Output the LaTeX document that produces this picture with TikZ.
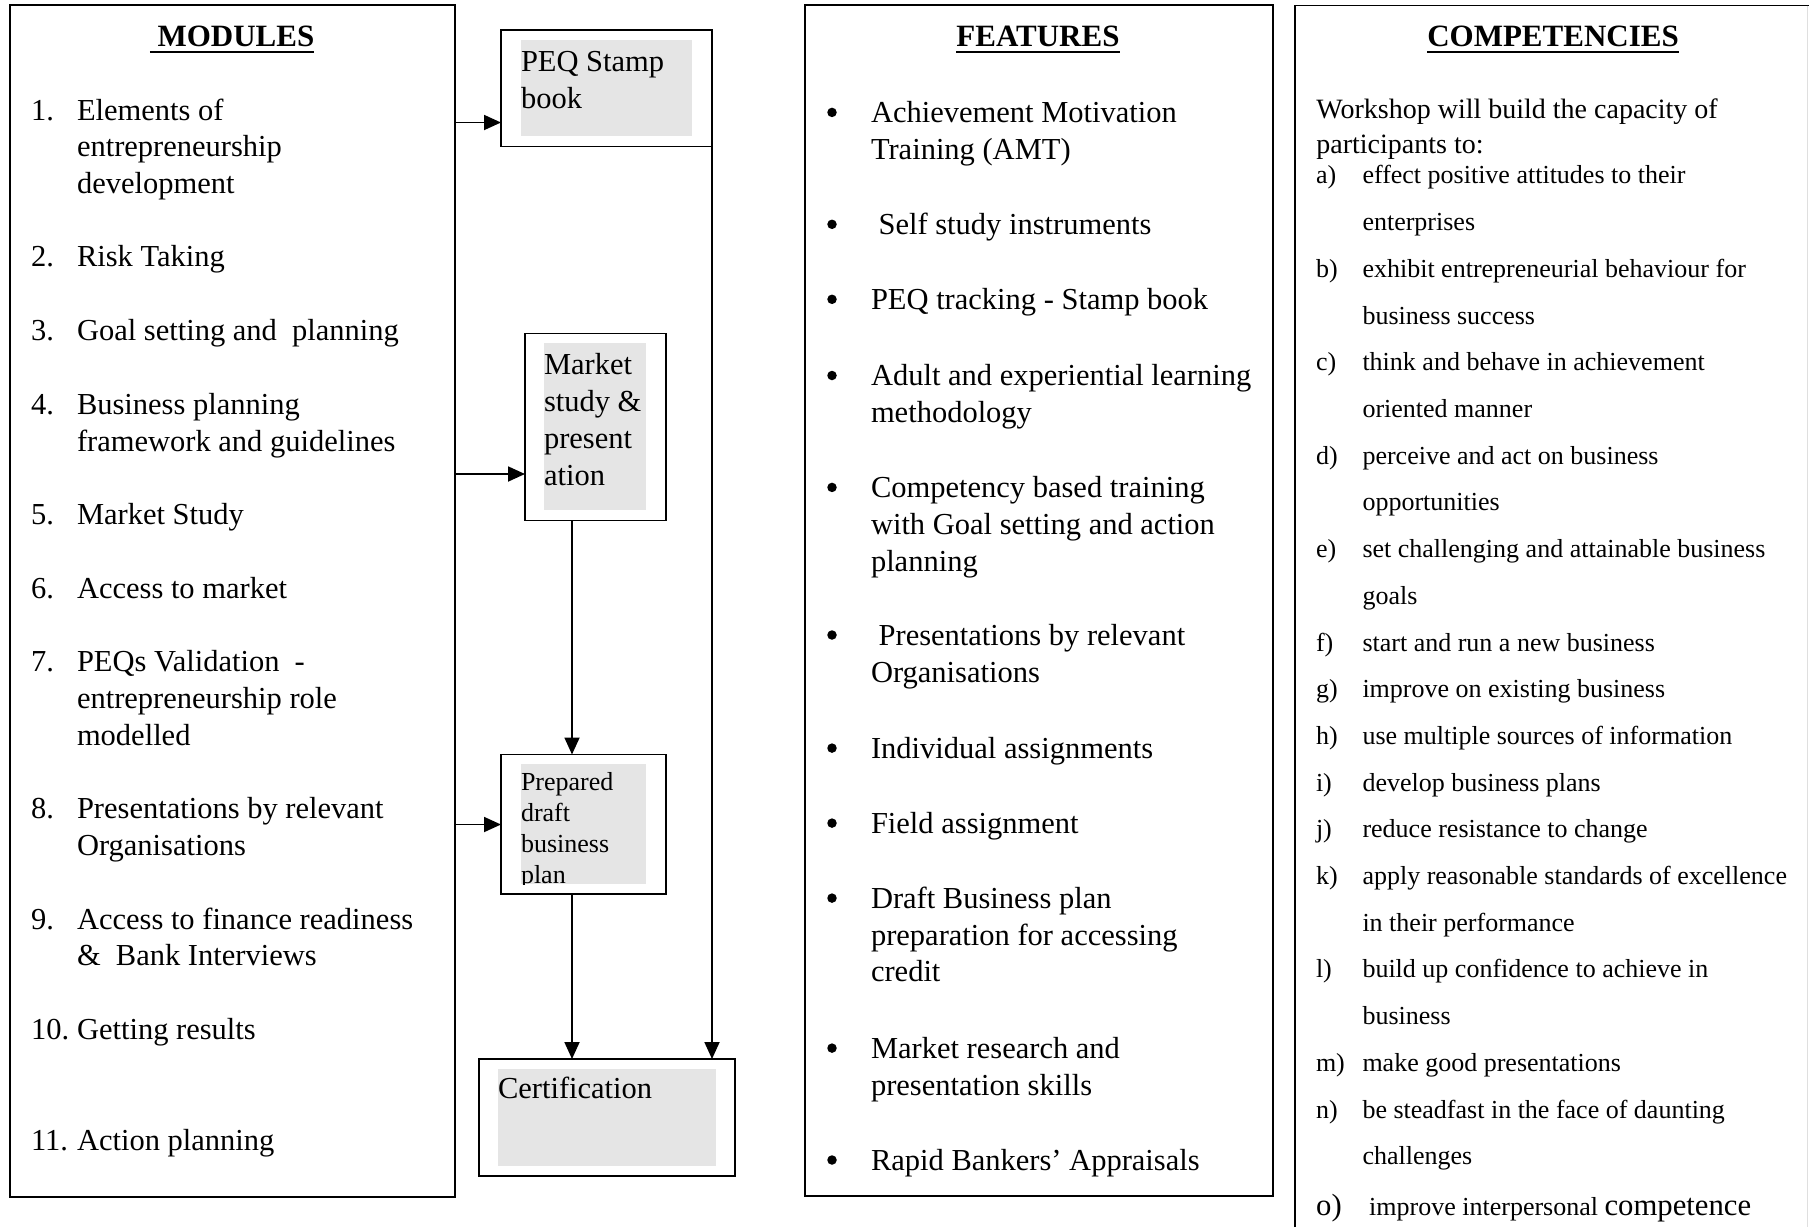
\documentclass[tikz,border=0pt]{standalone}
\usepackage{fontspec}
\setmainfont{Liberation Serif}
\usetikzlibrary{arrows.meta}
\definecolor{boxgray}{HTML}{E5E5E5}
\begin{document}
\begin{tikzpicture}[x=1pt,y=-1pt,
  frame/.style={draw=black, line width=1.8pt, inner sep=0pt, outer sep=0pt, anchor=north west},
  shade/.style={fill=boxgray, inner sep=0pt, outer sep=0pt, anchor=north west},
  body/.style={anchor=north west, inner sep=0pt, outer sep=0pt, align=left, yshift=23.4pt, font=\fontsize{30.5}{36.7}\selectfont},
  feat/.style={anchor=north west, inner sep=0pt, outer sep=0pt, align=left, yshift=23.5pt, font=\fontsize{30.5}{36.8}\selectfont},
  boxtxt/.style={anchor=north west, inner sep=0pt, outer sep=0pt, align=left, yshift=24.2pt, font=\fontsize{30.5}{37}\selectfont},
  smalltxt/.style={anchor=north west, inner sep=0pt, outer sep=0pt, align=left, yshift=19.8pt, font=\fontsize{26}{31}\selectfont},
  intro/.style={anchor=north west, inner sep=0pt, outer sep=0pt, align=left, yshift=22pt, font=\fontsize{28}{34.6}\selectfont},
  comp/.style={anchor=north west, inner sep=0pt, outer sep=0pt, align=left, yshift=31.4pt, font=\fontsize{26}{46.7}\selectfont},
  title/.style={anchor=base, inner sep=0pt, outer sep=0pt, font=\fontsize{31}{37}\selectfont\bfseries},
  uline/.style={line width=2.6pt},
  arr/.style={line width=1.8pt, -{Triangle[length=17pt,width=15pt]}},
  dot/.style={circle, fill=black, inner sep=0pt, minimum size=9.5pt}
]
\useasboundingbox (0,0) rectangle (1809,1227);

% ---------- column frames ----------
\node[frame, minimum width=445pt, minimum height=1192pt] (mod) at (10,5) {};
\node[frame, minimum width=468pt, minimum height=1191pt] (feat) at (805,5) {};
\draw[line width=1.8pt] (1295,1227) -- (1295,5.5) -- (1809,5.5);
\draw[gray!25, line width=1pt] (1807,5.5) -- (1807,1227);

% ---------- titles ----------
\node[title] (tmod) at (232,46.5) {\ MODULES};
\draw[uline] ([yshift=-5.5pt]tmod.base west) -- ([yshift=-5.5pt]tmod.base east);
\node[title] (tfeat) at (1038,46.5) {FEATURES};
\draw[uline] ([yshift=-5.5pt]tfeat.base west) -- ([yshift=-5.5pt]tfeat.base east);
\node[title] (tcomp) at (1553,46.5) {COMPETENCIES};
\draw[uline] ([yshift=-5.5pt]tcomp.base west) -- ([yshift=-5.5pt]tcomp.base east);

% ---------- modules ----------
\node[body] (n1) at (31,118) {\strut 1.};
\node[body] (m1) at (77,118) {\strut Elements of\\entrepreneurship\\development};
\node[body] (n2) at (31,264.6) {\strut 2.};
\node[body] (m2) at (77,264.6) {\strut Risk Taking};
\node[body] (n3) at (31,338.5) {\strut 3.};
\node[body] (m3) at (77,338.5) {\strut Goal setting and\ \ planning};
\node[body] (n4) at (31,412.3) {\strut 4.};
\node[body] (m4) at (77,412.3) {\strut Business planning\\framework and guidelines};
\node[body] (n5) at (31,522) {\strut 5.};
\node[body] (m5) at (77,522) {\strut Market Study};
\node[body] (n6) at (31,595.7) {\strut 6.};
\node[body] (m6) at (77,595.7) {\strut Access to market};
\node[body] (n7) at (31,669.6) {\strut 7.};
\node[body] (m7) at (77,669.6) {\strut PEQs Validation\ \ -\\entrepreneurship role\\modelled};
\node[body] (n8) at (31,816) {\strut 8.};
\node[body] (m8) at (77,816) {\strut Presentations by relevant\\Organisations};
\node[body] (n9) at (31,926.8) {\strut 9.};
\node[body] (m9) at (77,926.8) {\strut Access to finance readiness\\\&\ \ Bank Interviews};
\node[body] (n10) at (31,1037.6) {\strut 10.};
\node[body] (m10) at (77,1037.6) {\strut Getting results};
\node[body] (n11) at (31,1148.4) {\strut 11.};
\node[body] (m11) at (77,1148.4) {\strut Action planning};

% ---------- flow boxes ----------
\node[frame, minimum width=211pt, minimum height=116.5pt] (peq) at (501,30) {};
\node[shade, minimum width=171pt, minimum height=96.5pt] (peqs) at (521,39.5) {};
\node[boxtxt] (peqt) at (521,70) {\strut PEQ Stamp\\book};

\node[frame, minimum width=140.7pt, minimum height=187pt] (mkt) at (525,333.4) {};
\node[shade, minimum width=102pt, minimum height=167.3pt] (mkts) at (544,342.7) {};
\node[boxtxt] (mktt) at (544,372.5) {\strut Market\\study \&\\present\\ation};

\node[frame, minimum width=165pt, minimum height=139.5pt] (prep) at (501,754.5) {};
\node[shade, minimum width=125pt, minimum height=120pt] (preps) at (521,764) {};
\begin{scope}
  \clip (preps.north west) rectangle (preps.south east);
  \node[smalltxt] (prept) at (521,788.5) {\strut Prepared\\draft\\business\\plan};
\end{scope}

\node[frame, minimum width=256pt, minimum height=116.6pt] (cert) at (479,1059) {};
\node[shade, minimum width=218pt, minimum height=97pt] (certs) at (498,1069) {};
\node[boxtxt] (certt) at (498,1097) {\strut Certification};

% ---------- connectors ----------
\coordinate (r1) at (0,122.5);
\coordinate (r2) at (0,474);
\coordinate (r3) at (0,824.5);
\coordinate (cx) at (572,0);
\draw[arr] (r1 -| mod.east) -- (r1 -| peq.west);
\draw[arr] (r2 -| mod.east) -- (r2 -| mkt.west);
\draw[arr] (r3 -| mod.east) -- (r3 -| prep.west);
\draw[arr] (cx |- mkt.south) -- (cx |- prep.north);
\draw[arr] (cx |- prep.south) -- (cx |- cert.north);
\draw[arr] (peq.south east) -- (peq.south east |- cert.north);

% ---------- features ----------
\foreach \b [count=\i] in {120.4,232.3,307.3,383.5,495.4,643,756.1,831.1,906.1,1056.1,1168}
  \node[dot] (fb\i) at (832,\b-8) {};
\node[feat] (f1) at (871,120.4) {\strut Achievement Motivation\\Training (AMT)};
\node[feat] (f2) at (871,232.3) {\strut\ Self study instruments};
\node[feat] (f3) at (871,307.3) {\strut PEQ tracking - Stamp book};
\node[feat] (f4) at (871,383.5) {\strut Adult and experiential learning\\methodology};
\node[feat] (f5) at (871,495.4) {\strut Competency based training\\with Goal setting and action\\planning};
\node[feat] (f6) at (871,643) {\strut\ Presentations by relevant\\Organisations};
\node[feat] (f7) at (871,756.1) {\strut Individual assignments};
\node[feat] (f8) at (871,831.1) {\strut Field assignment};
\node[feat] (f9) at (871,906.1) {\strut Draft Business plan\\preparation for accessing\\credit};
\node[feat] (f10) at (871,1056.1) {\strut Market research and\\presentation skills};
\node[feat] (f11) at (871,1168) {\strut Rapid Bankers’ Appraisals};

% ---------- competencies ----------
\node[intro] (ci) at (1316.4,116.4) {\strut Workshop will build the capacity of\\participants to:};
\node[comp] (la) at (1316,182.7) {\strut a)};
\node[comp] (ca) at (1362.5,182.7) {\strut effect positive attitudes to their\\enterprises};
\node[comp] (lb) at (1316,276.1) {\strut b)};
\node[comp] (cb) at (1362.5,276.1) {\strut exhibit entrepreneurial behaviour for\\business success};
\node[comp] (lc) at (1316,369.5) {\strut c)};
\node[comp] (cc) at (1362.5,369.5) {\strut think and behave in achievement\\oriented manner};
\node[comp] (ld) at (1316,462.9) {\strut d)};
\node[comp] (cd) at (1362.5,462.9) {\strut perceive and act on business\\opportunities};
\node[comp] (le) at (1316,556.3) {\strut e)};
\node[comp] (ce) at (1362.5,556.3) {\strut set challenging and attainable business\\goals};
\node[comp] (lf) at (1316,649.7) {\strut f)};
\node[comp] (cf) at (1362.5,649.7) {\strut start and run a new business};
\node[comp] (lg) at (1316,696.4) {\strut g)};
\node[comp] (cg) at (1362.5,696.4) {\strut improve on existing business};
\node[comp] (lh) at (1316,743.1) {\strut h)};
\node[comp] (ch) at (1362.5,743.1) {\strut use multiple sources of information};
\node[comp] (li) at (1316,789.8) {\strut i)};
\node[comp] (cci) at (1362.5,789.8) {\strut develop business plans};
\node[comp] (lj) at (1316,836.5) {\strut j)};
\node[comp] (cj) at (1362.5,836.5) {\strut reduce resistance to change};
\node[comp] (lk) at (1316,883.2) {\strut k)};
\node[comp] (ck) at (1362.5,883.2) {\strut apply reasonable standards of excellence\\in their performance};
\node[comp] (ll) at (1316,976.6) {\strut l)};
\node[comp] (cl) at (1362.5,976.6) {\strut build up confidence to achieve in\\business};
\node[comp] (lm) at (1316,1070) {\strut m)};
\node[comp] (cm) at (1362.5,1070) {\strut make good presentations};
\node[comp] (ln) at (1316,1116.7) {\strut n)};
\node[comp] (cn) at (1362.5,1116.7) {\strut be steadfast in the face of daunting\\challenges};
\node[anchor=base west, inner sep=0pt, font=\fontsize{30.7}{37}\selectfont] (lo) at (1316,1215.5) {o)};
\node[anchor=base west, inner sep=0pt, font=\fontsize{26}{31}\selectfont] (co) at (1362.5,1215.5) {\ improve interpersonal {\fontsize{30.7}{37}\selectfont competence}};
\end{tikzpicture}
\end{document}
